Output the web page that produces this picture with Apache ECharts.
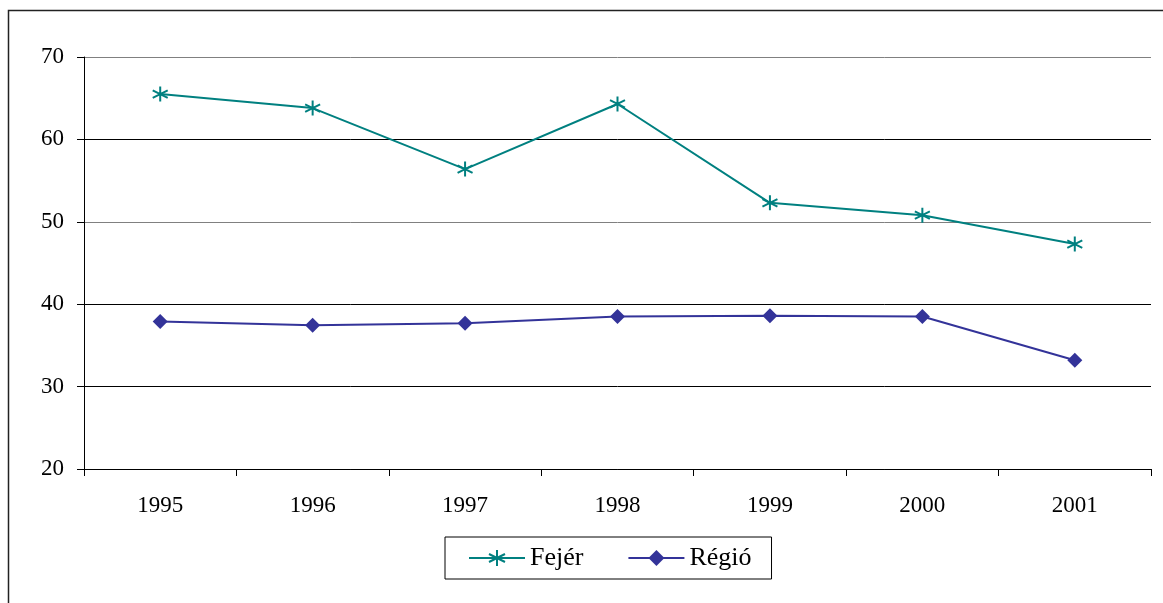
<!DOCTYPE html>
<html>
<head>
<meta charset="utf-8">
<script src="https://cdn.jsdelivr.net/npm/echarts@6/dist/echarts.min.js"></script>
<style>
    html, body { margin: 0; padding: 0; background: #fff; }
    #chart { width: 1163px; height: 603px; }
</style>
</head>
<body>
<div id="chart"></div>
<script>
var years = ['1995', '1996', '1997', '1998', '1999', '2000', '2001'];
var fejer = [65.5, 63.8, 56.4, 64.3, 52.3, 50.8, 47.3];
var regio = [37.9, 37.45, 37.7, 38.5, 38.6, 38.5, 33.2];

(function () {
    var chartDom = document.getElementById('chart');
    var myChart = echarts.init(chartDom);
    var font = 'Liberation Serif, Times New Roman, serif';
    // asterisk marker: vertical stroke plus an X
    var star = 'path://M5,0L5,10M0.7,2.5L9.3,7.5M9.3,2.5L0.7,7.5';

    var option = {
        animation: false,
        backgroundColor: '#fff',
        graphic: [{
            type: 'rect',
            shape: { x: 8.5, y: 10.5, width: 1200, height: 700 },
            style: { fill: 'none', stroke: '#222', lineWidth: 1.5 },
            silent: true
        }],
        grid: {
            left: 84,
            right: 12,
            top: 57,
            bottom: 134
        },
        legend: {
            left: 445,
            top: 537,
            padding: [8, 20, 8, 23],
            borderColor: '#000',
            borderWidth: 1,
            itemWidth: 56,
            itemHeight: 20,
            itemGap: 44,
            textStyle: { fontFamily: font, fontSize: 26, color: '#000' },
            data: ['Fejér', 'Régió']
        },
        xAxis: {
            type: 'category',
            data: years,
            boundaryGap: true,
            axisLine: { lineStyle: { color: '#000', width: 1 } },
            axisTick: { show: true, length: 7, lineStyle: { color: '#000' } },
            axisLabel: { color: '#000', fontFamily: font, fontSize: 23, margin: 25 }
        },
        yAxis: {
            type: 'value',
            min: 20,
            max: 70,
            interval: 10,
            axisLine: { show: true, lineStyle: { color: '#000', width: 1 } },
            axisTick: { show: true, length: 7, lineStyle: { color: '#000' } },
            axisLabel: { color: '#000', fontFamily: font, fontSize: 23, margin: 20 },
            splitLine: {
                show: true,
                lineStyle: {
                    color: ['#000', '#000', '#000', '#808080', '#000', '#808080'],
                    width: 1
                }
            }
        },
        series: [
            {
                name: 'Fejér',
                type: 'line',
                data: fejer,
                symbol: star,
                symbolSize: 15,
                lineStyle: { color: '#008080', width: 2 },
                itemStyle: { color: '#008080', borderColor: '#008080', borderWidth: 2 }
            },
            {
                name: 'Régió',
                type: 'line',
                data: regio,
                symbol: 'diamond',
                symbolSize: 15,
                lineStyle: { color: '#333399', width: 2 },
                itemStyle: { color: '#333399', borderColor: '#333399', borderWidth: 0 }
            }
        ]
    };

    myChart.setOption(option);
    window.addEventListener('resize', function () {
        myChart.resize();
    });
})();
</script>
</body>
</html>
